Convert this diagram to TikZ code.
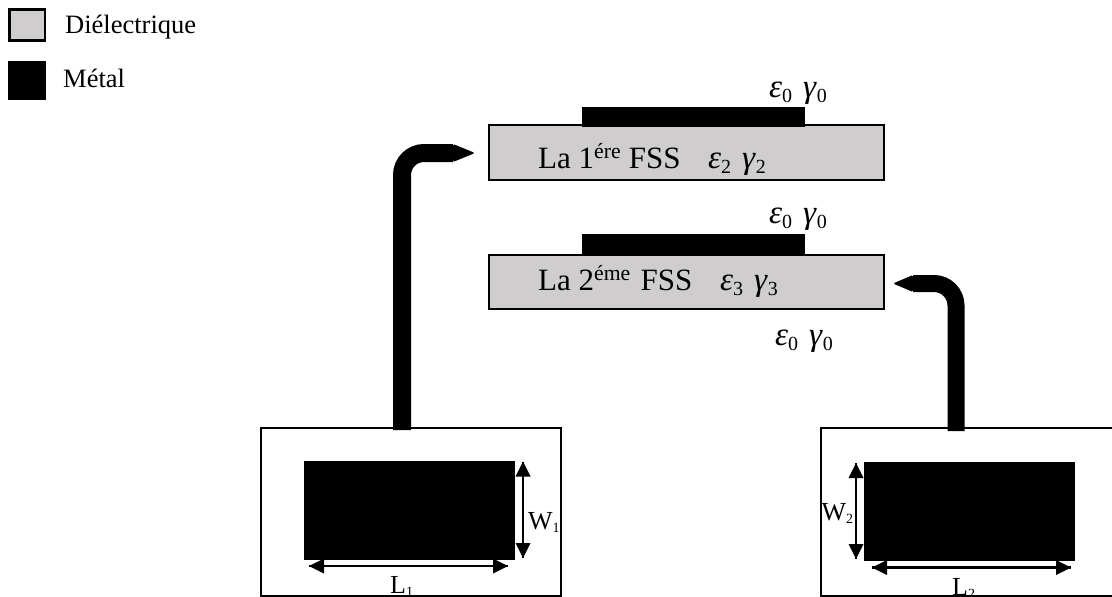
\documentclass[tikz,border=0pt]{standalone}
\usepackage{fontspec}
\setmainfont{Liberation Serif}
\usetikzlibrary{positioning}
\usetikzlibrary{calc}
\definecolor{dielec}{HTML}{CFCDCD}
\newcommand{\lowidx}[1]{\raisebox{-3pt}{\fontsize{14}{14}\selectfont #1}}
\newcommand{\epsgam}[1]{{\fontsize{33}{36}\selectfont\textit{ε}\raisebox{-5pt}{\fontsize{20}{20}\selectfont #1}\hspace{11pt}\textit{γ}\raisebox{-5pt}{\fontsize{20}{20}\selectfont #1}}}
\tikzset{
    dielecbox/.style={draw=black, line width=2pt, fill=dielec, inner sep=0pt, outer sep=0pt, anchor=north west},
    metalbox/.style={draw=none, fill=black, inner sep=0pt, outer sep=0pt, anchor=north west},
    framebox/.style={draw=black, line width=2pt, fill=white, inner sep=0pt, outer sep=0pt, anchor=north west},
    label/.style={inner sep=0pt, anchor=base west},
    fsslabel/.style={label, font=\fontsize{31}{34}\selectfont},
    sidelabel/.style={label, font=\fontsize{26}{30}\selectfont},
    feedline/.style={line width=18pt, rounded corners=22pt},
    sizeline/.style={line width=2.2pt}
}
\begin{document}
\begin{tikzpicture}
    [
    x=1pt, y=-1pt, font=\fontsize{26.5}{30}\selectfont
    %Pixel der Vorlage als Einheit
    ]
    \useasboundingbox (0,0) rectangle (1112,597);

    %Legende
    \node[dielecbox, line width=2.5pt, minimum width=35.5pt, minimum height=31pt] (legdielec) at (9.5,9.5) {};
    \node[metalbox, minimum width=38pt, minimum height=39pt] (legmetal) at (8,61) {};
    \node[label] (txtdielec) at (65,33) {Diélectrique};
    \node[label] (txtmetal) at (63,87) {Métal};

    %1ere FSS
    \node[dielecbox, minimum width=394.5pt, minimum height=54.5pt] (fssA) at (489.3,125.3) {};
    \node[metalbox, minimum width=223pt, minimum height=20pt] (metalA) at (581.5,107) {};
    \node[fsslabel] (txtfssA) at (538,168) {La 1\textsuperscript{ére} FSS};
    \node[label] (epsA) at (708,168) {\epsgam{2}};
    \node[label] (airA) at (769,97) {\epsgam{0}};

    %2eme FSS
    \node[dielecbox, minimum width=394.5pt, minimum height=54.5pt] (fssB) at (489.3,254.7) {};
    \node[metalbox, minimum width=223pt, minimum height=21pt] (metalB) at (581.5,234) {};
    \node[fsslabel] (txtfssB) at (538,290) {La 2\textsuperscript{éme}\hspace{2pt} FSS};
    \node[label] (epsB) at (720,290) {\epsgam{3}};
    \node[label] (airB) at (769,223) {\epsgam{0}};
    \node[label] (airC) at (775,345) {\epsgam{0}};

    %Patch gauche
    \node[framebox, minimum width=300.5pt, minimum height=167.5pt] (frameA) at (260.5,428) {};
    \node[metalbox, minimum width=211pt, minimum height=99pt] (patchA) at (304,460.5) {};

    %Patch droit
    \node[framebox, minimum width=294pt, minimum height=167.5pt] (frameB) at (820.5,428) {};
    \node[metalbox, minimum width=211pt, minimum height=99pt] (patchB) at (864,462) {};

    %Liaisons
    \coordinate (feedA) at (402,430);
    \coordinate (neckA) at (453,153);
    \coordinate (tipA) at (475,153);
    \coordinate (feedB) at (956,431);
    \coordinate (neckB) at (913,283.5);
    \coordinate (tipB) at (893,283.5);
    \draw[feedline] (feedA) |- (neckA);
    \fill[rounded corners=1.5pt] ($(neckA)+(0,-9)$) -- (tipA) -- ($(neckA)+(0,9)$) -- cycle;
    \draw[feedline, line width=17pt] (feedB) |- (neckB);
    \fill[rounded corners=1.5pt] ($(neckB)+(0,-8.5)$) -- (tipB) -- ($(neckB)+(0,8.5)$) -- cycle;

    %Cotes gauche
    \coordinate (wAtop) at (523,461.5);
    \coordinate (wAbot) at (523,558);
    \coordinate (lAleft) at (309,566);
    \coordinate (lAright) at (508,566);
    \draw[sizeline] (wAtop) -- (wAbot);
    \draw[sizeline] (lAleft) -- (lAright);
    \fill (wAtop) -- ++(7.5,15) -- ++(-15,0) -- cycle;
    \fill (wAbot) -- ++(7.5,-15) -- ++(-15,0) -- cycle;
    \fill (lAleft) -- ++(15,-7.5) -- ++(0,15) -- cycle;
    \fill (lAright) -- ++(-15,-7.5) -- ++(0,15) -- cycle;
    \node[sidelabel] (txtwA) at (528,529) {W\lowidx{1}};
    \begin{scope}
        \clip (frameA.north west) rectangle (frameA.south east);
        \node[sidelabel] (txtlA) at (390,593.5) {L\lowidx{1}};
    \end{scope}

    %Cotes droite
    \coordinate (wBtop) at (856,463);
    \coordinate (wBbot) at (856,559);
    \coordinate (lBleft) at (872,567.5);
    \coordinate (lBright) at (1071,567.5);
    \draw[sizeline] (wBtop) -- (wBbot);
    \draw[sizeline] (lBleft) -- (lBright);
    \fill (wBtop) -- ++(7.5,15) -- ++(-15,0) -- cycle;
    \fill (wBbot) -- ++(7.5,-15) -- ++(-15,0) -- cycle;
    \fill (lBleft) -- ++(15,-7.5) -- ++(0,15) -- cycle;
    \fill (lBright) -- ++(-15,-7.5) -- ++(0,15) -- cycle;
    \node[sidelabel] (txtwB) at (821.5,520) {W\lowidx{2}};
    \begin{scope}
        \clip (frameB.north west) rectangle (frameB.south east);
        \node[sidelabel] (txtlB) at (952,595) {L\lowidx{2}};
    \end{scope}
\end{tikzpicture}
\end{document}
